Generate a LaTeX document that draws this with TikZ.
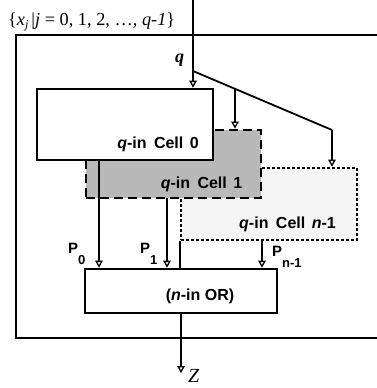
\documentclass[tikz,border=0pt]{standalone}
\usepackage{fontspec}
\setmainfont{Liberation Sans}
\newfontfamily\tms{Liberation Serif}
\usetikzlibrary{arrows.meta}
\begin{document}
\begin{tikzpicture}[x=1pt,y=-1pt,
  wire/.style={line width=1.8pt},
  arr/.style={line width=1.8pt,-{Triangle[open,length=7pt,width=7.5pt,line width=1.3pt]}},
  outerbox/.style={line width=1.8pt},
  solidcell/.style={draw,line width=2.6pt,fill=white,minimum width=176pt,minimum height=71pt,inner sep=0pt},
  dashcell/.style={draw,line width=2.8pt,dash pattern=on 9pt off 5pt,fill=gray!55,minimum width=175pt,minimum height=68pt,inner sep=0pt},
  dotcell/.style={draw,line width=2.6pt,dash pattern=on 2.6pt off 2.4pt,fill=gray!8,minimum width=176pt,minimum height=72pt,inner sep=0pt},
  orbox/.style={draw,line width=2.6pt,fill=white,minimum width=192pt,minimum height=44pt,inner sep=0pt},
  lbl/.style={inner sep=0pt,font=\fontsize{16}{16}\selectfont\bfseries},
  plbl/.style={inner sep=0pt,anchor=base west,font=\fontsize{15}{15}\selectfont\bfseries},
  serifl/.style={inner sep=0pt,anchor=base west}]
\useasboundingbox (0,0) rectangle (377,388);
% outer box (open on the right)
\coordinate (otr) at (380,35);
\coordinate (otl) at (16,35);
\coordinate (obl) at (16,338);
\coordinate (obr) at (380,338);
\draw[outerbox] (otr) -- (otl) -- (obl) -- (obr);
% cells
\node[dotcell] (cn) at (269,204) {};
\node[dashcell] (c1) at (173.5,164) {};
\node[solidcell] (c0) at (125,124.5) {};
\node[orbox] (or) at (181,291) {};
% labels in cells
\node[lbl,anchor=base] (l0) at (158,148.5) {\textit{q}-in\hspace{3pt} Cell\hspace{2pt} 0};
\node[lbl,anchor=base] (l1) at (201.5,188) {\textit{q}-in\hspace{3pt} Cell\hspace{2pt} 1};
\node[lbl,anchor=base] (ln) at (287.5,228) {\textit{q}-in\hspace{3pt} Cell\hspace{2pt} \textit{n}-1};
\node[lbl,anchor=base] (lor) at (200,300) {(\textit{n}-in OR)};
% top label
\node[serifl] (set) at (8,25) {\tms\fontsize{18.3}{18.3}\selectfont \{\textit{x}\raisebox{-3.5pt}{\fontsize{12}{12}\selectfont\textit{j}}\hspace{3pt}\textbar\textit{j} = 0, 1, 2, \ldots, \textit{q-1}\}};
\node[serifl] (ql) at (175,62) {\tms\fontsize{18}{18}\selectfont\bfseries\itshape q};
\node[serifl] (zl) at (188,382) {\tms\fontsize{20}{20}\selectfont\itshape Z};
% input
\coordinate (in) at (193,0);
\draw[arr] (in) -- (c0.north -| in);
\coordinate (br) at (193,71);
\coordinate (bk) at (332,130);
\coordinate (bm) at (235,88.8);
\draw[wire] (br) -- (bk);
\draw[arr] (bm) -- (bm |- c1.north);
\draw[arr] (bk) -- (bk |- cn.north);
% outputs
\coordinate (x0) at (99,160);
\coordinate (x1) at (167,198);
\coordinate (xn) at (262,240);
\draw[arr] (x0) -- (x0 |- or.north);
\draw[arr] (x1) -- (x1 |- or.north);
\draw[arr] (xn) -- (xn |- or.north);
\draw[wire] (cn.south west) -- (cn.south west |- or.north);
\coordinate (zend) at (181,373);
\draw[arr] (or.south) -- (zend);
% P labels
\node[plbl] (p0) at (68,253) {P\raisebox{-11pt}{\fontsize{13}{13}\selectfont 0}};
\node[plbl] (p1) at (140,253) {P\raisebox{-11pt}{\fontsize{13}{13}\selectfont 1}};
\node[plbl] (pn) at (272,256) {P\raisebox{-11pt}{\fontsize{13}{13}\selectfont n-1}};
\end{tikzpicture}
\end{document}
